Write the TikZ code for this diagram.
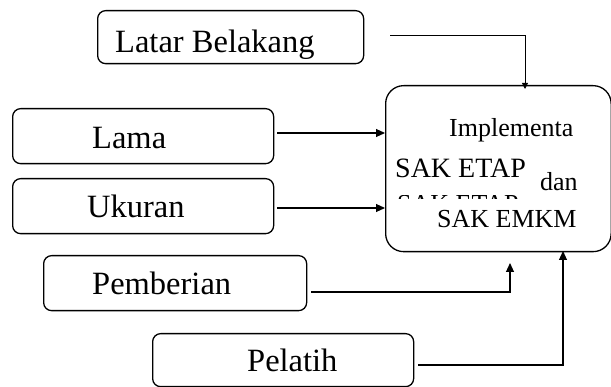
\documentclass[tikz,border=0pt]{standalone}
\usepackage{fontspec}
\setmainfont{Liberation Serif}
\usetikzlibrary{arrows.meta}
\begin{document}
\begin{tikzpicture}[x=1pt,y=-1pt,
  box/.style={draw, line width=1.3pt, rounded corners=8pt, inner sep=0pt, anchor=north west},
  bigbox/.style={draw, line width=1.3pt, rounded corners=18pt, inner sep=0pt, anchor=north west},
  lbl/.style={anchor=base west, inner sep=0pt, font=\fontsize{32.5}{32.5}\selectfont},
  sml/.style={anchor=base west, inner sep=0pt, font=\fontsize{26}{26}\selectfont},
  conn/.style={line width=1.1pt, -{Triangle[length=9pt,width=8pt]}},
  thinconn/.style={line width=0.8pt, -{Triangle[length=6pt,width=6pt]}},
]
\useasboundingbox (0,0) rectangle (611,387);

% boxes
\node[box, minimum width=266pt, minimum height=53pt] (latar) at (97,10) {};
\node[box, minimum width=261pt, minimum height=55pt] (lama) at (12,108) {};
\node[box, minimum width=261pt, minimum height=55pt] (ukuran) at (12,178) {};
\node[box, minimum width=263pt, minimum height=55pt] (pemberian) at (43,255) {};
\node[box, minimum width=261pt, minimum height=53pt] (pelatih) at (152,333) {};
\node[bigbox, minimum width=225.5pt, minimum height=166pt] (big) at (385,85) {};

% labels
\node[lbl] (tlatar) at (115,53) {Latar Belakang};
\node[lbl] (tlama) at (92,149) {Lama};
\node[lbl] (tukuran) at (87,218) {Ukuran};
\node[lbl] (tpemberian) at (92,295) {Pemberian};
\node[lbl] (tpelatih) at (247,372) {Pelatih};

\node[sml] (timpl) at (449,137) {Implementa};
\node[sml, font=\fontsize{28}{28}\selectfont] (tetap) at (395,178) {SAK ETAP};
\node[sml] (tdan) at (540,191) {dan};
\node[sml] (temkm) at (437,228) {SAK EMKM};
\begin{scope}
  \clip (393,195.5) rectangle (520,198.5);
  \node[sml] (tghost) at (397,213) {\smash{SAK ETAP}};
\end{scope}

% connector end points
\coordinate (s1) at (390,35);
\coordinate (e1) at (525,89);
\coordinate (s2) at (277,133);
\coordinate (e2) at (385,133);
\coordinate (s3) at (277,208);
\coordinate (e3) at (385,208);
\coordinate (s4) at (311,292);
\coordinate (e4) at (510,263);
\coordinate (s5) at (418,365);
\coordinate (e5) at (563,251);

\draw[thinconn] (s1) -| (e1);
\draw[conn] (s2) -- (e2);
\draw[conn] (s3) -- (e3);
\draw[conn] (s4) -| (e4);
\draw[conn] (s5) -| (e5);
\end{tikzpicture}
\end{document}
